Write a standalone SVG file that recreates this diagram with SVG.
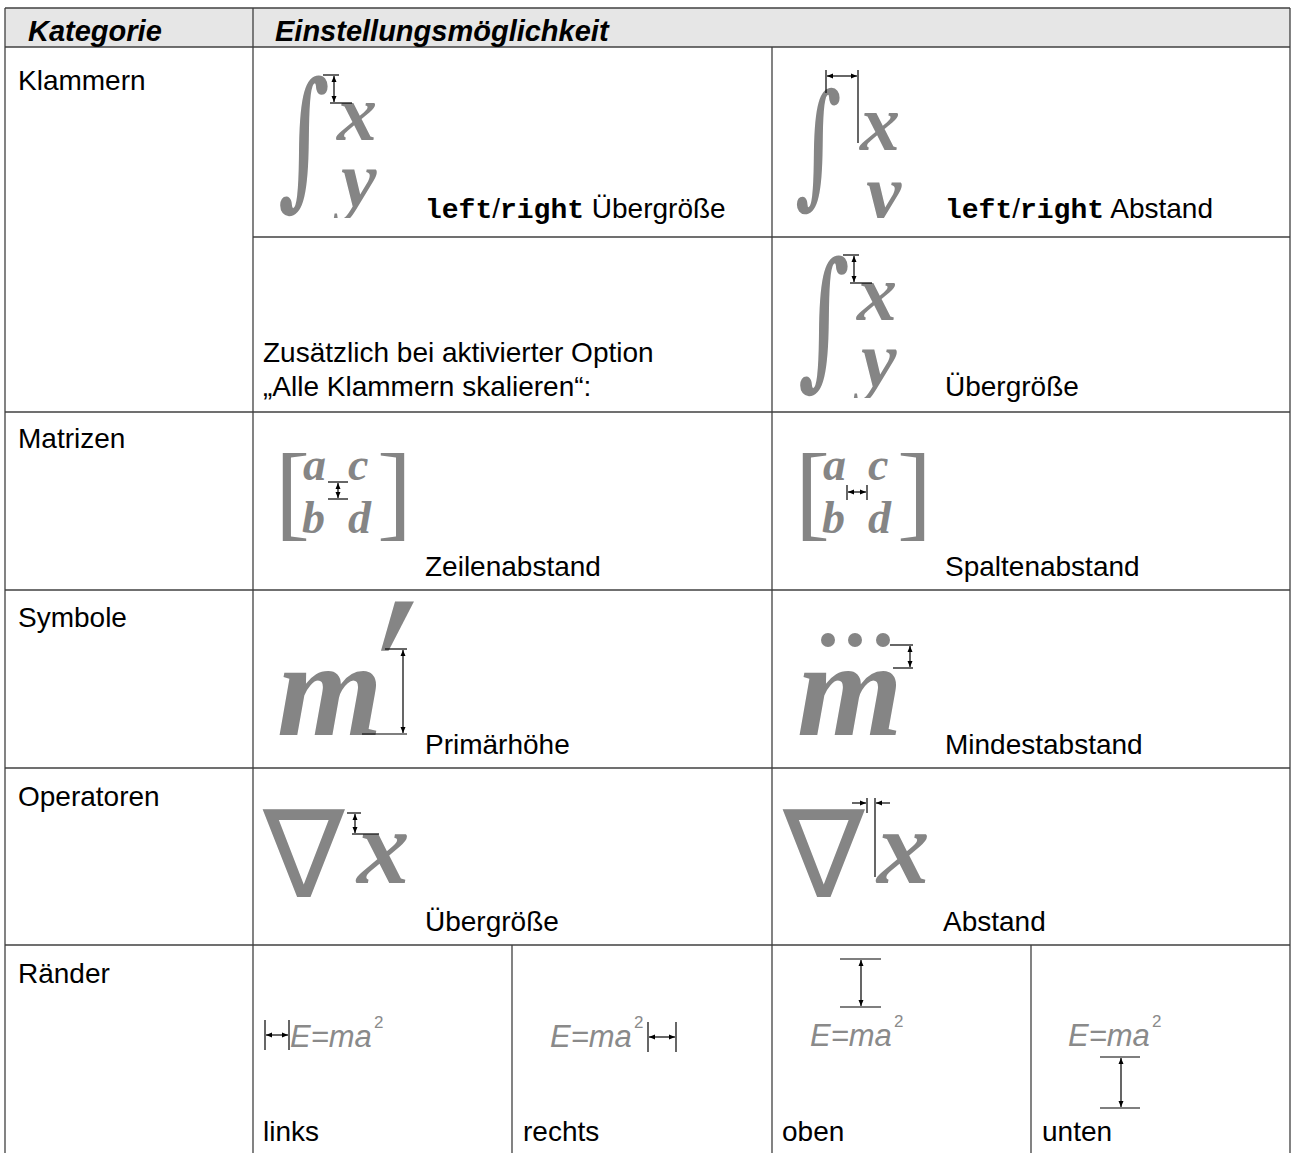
<svg xmlns="http://www.w3.org/2000/svg" width="1291" height="1153" viewBox="0 0 1291 1153">
<defs>
<style>
.t{font-family:"Liberation Sans",Arial,sans-serif;font-size:28px;fill:#000}
.h{font-family:"Liberation Sans",Arial,sans-serif;font-size:29px;font-weight:bold;font-style:italic;fill:#000}
.mono{font-family:"Liberation Mono","Courier New",monospace;font-size:28px;font-weight:bold}
.m{font-family:"Liberation Serif","Times New Roman",serif;font-weight:bold;font-style:italic;fill:#858585}
.sym{font-family:"DejaVu Serif",serif;fill:#858585}
.nab{font-family:"DejaVu Sans",sans-serif;fill:#858585}
.br{font-family:"Liberation Serif","Times New Roman",serif;fill:#858585}
.e{font-family:"Liberation Sans",Arial,sans-serif;font-style:italic;font-size:31px;fill:#8a8a8a}
.sup{font-family:"Liberation Sans",Arial,sans-serif;font-size:17px;fill:#8a8a8a}
.grid line{stroke:#404040;stroke-width:1.3}
.dim line{stroke:#000;stroke-width:1.2}
.arr{stroke:#000;stroke-width:1.2;marker-start:url(#ah);marker-end:url(#ah)}
.arr1{stroke:#000;stroke-width:1.2;marker-end:url(#ah)}
</style>
<marker id="ah" viewBox="0 0 6 6" refX="6" refY="3" markerWidth="6" markerHeight="6" markerUnits="userSpaceOnUse" orient="auto-start-reverse">
<path d="M0,0.5 L6,3 L0,5.5 z" fill="#000"/>
</marker>
<clipPath id="cA"><rect x="262" y="60" width="160" height="158"/></clipPath>
<clipPath id="cB"><rect x="782" y="60" width="160" height="158"/></clipPath>
<clipPath id="cC"><rect x="782" y="240" width="160" height="158"/></clipPath>
</defs>
<rect x="5" y="8" width="1285" height="39" fill="#e6e6e6"/>
<g class="grid" id="grid">
<line x1="5" y1="8" x2="1290" y2="8"/>
<line x1="5" y1="47" x2="1290" y2="47"/>
<line x1="253" y1="237" x2="1290" y2="237"/>
<line x1="5" y1="412" x2="1290" y2="412"/>
<line x1="5" y1="590" x2="1290" y2="590"/>
<line x1="5" y1="768" x2="1290" y2="768"/>
<line x1="5" y1="945" x2="1290" y2="945"/>
<line x1="5" y1="8" x2="5" y2="1153"/>
<line x1="253" y1="8" x2="253" y2="1153"/>
<line x1="772" y1="47" x2="772" y2="1153"/>
<line x1="1290" y1="8" x2="1290" y2="1153"/>
<line x1="512" y1="945" x2="512" y2="1153"/>
<line x1="1031" y1="945" x2="1031" y2="1153"/>
</g>
<g id="header">
<text class="h" x="28" y="41">Kategorie</text>
<text class="h" x="275" y="41">Einstellungsmöglichkeit</text>
</g>
<g id="categories">
<text class="t" x="18" y="90">Klammern</text>
<text class="t" x="18" y="448">Matrizen</text>
<text class="t" x="18" y="627">Symbole</text>
<text class="t" x="18" y="806">Operatoren</text>
<text class="t" x="18" y="983">Ränder</text>
</g>
<g id="klammern-uebergroesse">
<g clip-path="url(#cA)">
<text class="sym" x="0" y="0" font-size="100" transform="translate(278,189) scale(1,1.5)">∫</text>
<text class="m" x="337" y="140" font-size="80">x</text>
<text class="m" x="341" y="207" font-size="80">y</text>
</g>
<g class="dim">
<line x1="323" y1="75" x2="339" y2="75"/>
<line x1="330" y1="103" x2="352" y2="103"/>
<line class="arr" x1="334" y1="76" x2="334" y2="102"/>
</g>
<text class="t" x="425" y="218"><tspan class="mono">left</tspan>/<tspan class="mono">right</tspan> Übergröße</text>
</g>
<g id="klammern-abstand">
<g clip-path="url(#cB)">
<text class="sym" x="0" y="0" font-size="90" transform="translate(795,190) scale(1,1.5)">∫</text>
<text class="m" x="860" y="150" font-size="80">x</text>
<text class="m" x="866" y="220" font-size="80">y</text>
</g>
<g class="dim">
<line x1="826" y1="70" x2="826" y2="93"/>
<line x1="858" y1="70" x2="858" y2="143"/>
<line class="arr" x1="827" y1="76" x2="857" y2="76"/>
</g>
<text class="t" x="945" y="218"><tspan class="mono">left</tspan>/<tspan class="mono">right</tspan> Abstand</text>
</g>
<g id="klammern-skalieren">
<text class="t" x="263" y="362">Zusätzlich bei aktivierter Option</text>
<text class="t" x="263" y="396">„Alle Klammern skalieren“:</text>
<g clip-path="url(#cC)">
<text class="sym" x="0" y="0" font-size="100" transform="translate(798,369) scale(1,1.5)">∫</text>
<text class="m" x="857" y="320" font-size="80">x</text>
<text class="m" x="861" y="387" font-size="80">y</text>
</g>
<g class="dim">
<line x1="843" y1="255" x2="859" y2="255"/>
<line x1="850" y1="283" x2="872" y2="283"/>
<line class="arr" x1="854" y1="256" x2="854" y2="282"/>
</g>
<text class="t" x="945" y="396">Übergröße</text>
</g>
<g id="matrizen-zeilenabstand">
<text class="br" x="275" y="527" font-size="105">[</text>
<text class="br" x="377" y="527" font-size="105">]</text>
<text class="m" x="303" y="480" font-size="46">a</text>
<text class="m" x="348" y="480" font-size="46">c</text>
<text class="m" x="302" y="533" font-size="46">b</text>
<text class="m" x="348" y="533" font-size="46">d</text>
<g class="dim">
<line x1="328" y1="482" x2="348" y2="482"/>
<line x1="328" y1="499" x2="348" y2="499"/>
<line class="arr" x1="338" y1="483" x2="338" y2="498"/>
</g>
<text class="t" x="425" y="576">Zeilenabstand</text>
</g>
<g id="matrizen-spaltenabstand">
<text class="br" x="795" y="527" font-size="105">[</text>
<text class="br" x="897" y="527" font-size="105">]</text>
<text class="m" x="823" y="480" font-size="46">a</text>
<text class="m" x="868" y="480" font-size="46">c</text>
<text class="m" x="822" y="533" font-size="46">b</text>
<text class="m" x="868" y="533" font-size="46">d</text>
<g class="dim">
<line x1="847" y1="485" x2="847" y2="500"/>
<line x1="867" y1="485" x2="867" y2="500"/>
<line class="arr" x1="848" y1="492" x2="866" y2="492"/>
</g>
<text class="t" x="945" y="576">Spaltenabstand</text>
</g>
<g id="symbole-primaerhoehe">
<text class="m" x="277" y="735" font-size="136">m</text>
<text class="m" x="0" y="0" font-size="150" transform="translate(350,739) skewX(-12) scale(1,1.4)">′</text>
<g class="dim">
<line x1="385" y1="649" x2="407" y2="649"/>
<line x1="362" y1="734" x2="407" y2="734"/>
<line class="arr" x1="403" y1="650" x2="403" y2="733"/>
</g>
<text class="t" x="425" y="754">Primärhöhe</text>
</g>
<g id="symbole-mindestabstand">
<text class="m" x="797" y="735" font-size="136">m</text>
<circle cx="828" cy="640" r="7" fill="#858585"/>
<circle cx="855" cy="640" r="7" fill="#858585"/>
<circle cx="883" cy="640" r="7" fill="#858585"/>
<g class="dim">
<line x1="890" y1="645" x2="913" y2="645"/>
<line x1="893" y1="668" x2="913" y2="668"/>
<line class="arr" x1="910" y1="646" x2="910" y2="667"/>
</g>
<text class="t" x="945" y="754">Mindestabstand</text>
</g>
<g id="operatoren-uebergroesse">
<text class="nab" x="263" y="897" font-size="122">∇</text>
<text class="m" x="357" y="883" font-size="105">x</text>
<g class="dim">
<line x1="347" y1="813" x2="361" y2="813"/>
<line x1="352" y1="834" x2="379" y2="834"/>
<line class="arr" x1="355" y1="814" x2="355" y2="833"/>
</g>
<text class="t" x="425" y="931">Übergröße</text>
</g>
<g id="operatoren-abstand">
<text class="nab" x="783" y="897" font-size="122">∇</text>
<text class="m" x="877" y="883" font-size="105">x</text>
<g class="dim">
<line x1="867" y1="798" x2="867" y2="813"/>
<line x1="875" y1="798" x2="875" y2="877"/>
<line class="arr1" x1="852" y1="803" x2="866" y2="803"/>
<line class="arr1" x1="890" y1="803" x2="876" y2="803"/>
</g>
<text class="t" x="943" y="931">Abstand</text>
</g>
<g id="raender-links">
<text class="e" x="290" y="1047">E=ma</text>
<text class="sup" x="374" y="1028">2</text>
<g class="dim">
<line x1="265" y1="1020" x2="265" y2="1050"/>
<line x1="289" y1="1020" x2="289" y2="1050"/>
<line class="arr" x1="266" y1="1035" x2="288" y2="1035"/>
</g>
<text class="t" x="263" y="1141">links</text>
</g>
<g id="raender-rechts">
<text class="e" x="550" y="1047">E=ma</text>
<text class="sup" x="634" y="1028">2</text>
<g class="dim">
<line x1="648" y1="1022" x2="648" y2="1052"/>
<line x1="676" y1="1022" x2="676" y2="1052"/>
<line class="arr" x1="649" y1="1037" x2="675" y2="1037"/>
</g>
<text class="t" x="523" y="1141">rechts</text>
</g>
<g id="raender-oben">
<text class="e" x="810" y="1046">E=ma</text>
<text class="sup" x="894" y="1027">2</text>
<g class="dim">
<line x1="840" y1="959" x2="881" y2="959"/>
<line x1="840" y1="1007" x2="881" y2="1007"/>
<line class="arr" x1="861" y1="960" x2="861" y2="1006"/>
</g>
<text class="t" x="782" y="1141">oben</text>
</g>
<g id="raender-unten">
<text class="e" x="1068" y="1046">E=ma</text>
<text class="sup" x="1152" y="1027">2</text>
<g class="dim">
<line x1="1100" y1="1057" x2="1140" y2="1057"/>
<line x1="1100" y1="1108" x2="1140" y2="1108"/>
<line class="arr" x1="1121" y1="1058" x2="1121" y2="1107"/>
</g>
<text class="t" x="1042" y="1141">unten</text>
</g>
</svg>
